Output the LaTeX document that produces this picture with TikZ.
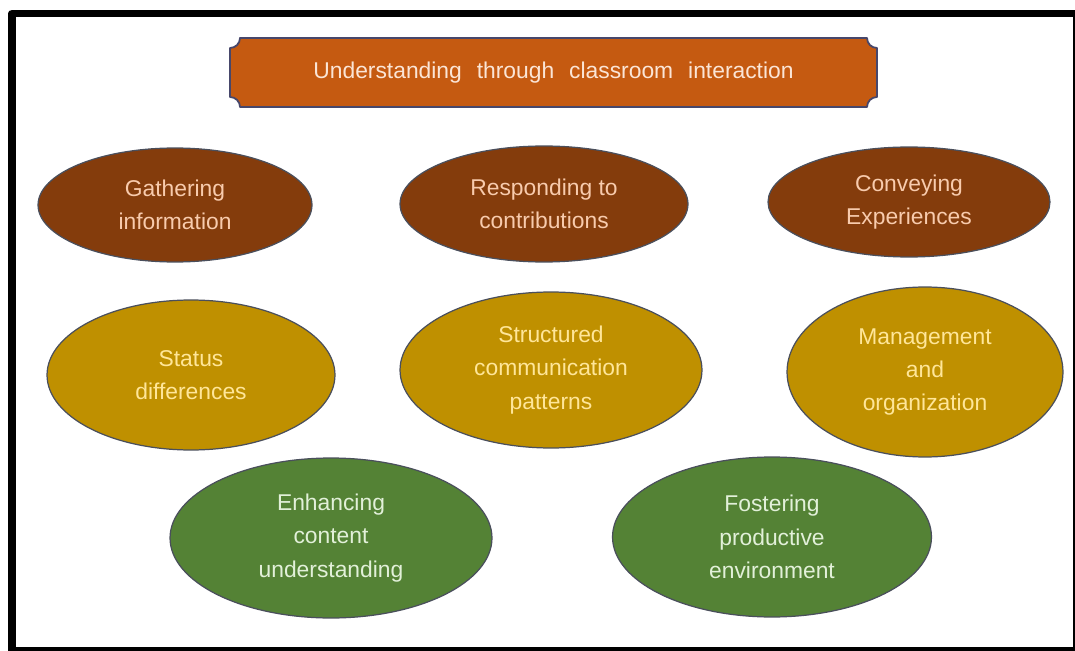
\documentclass[tikz,border=0pt]{standalone}
\usepackage{fontspec}
\setmainfont{Liberation Sans}
\usetikzlibrary{shapes.geometric}

\definecolor{titlefill}{HTML}{C55A11}
\definecolor{titletext}{HTML}{FBE5D6}
\definecolor{brownfill}{HTML}{843C0C}
\definecolor{browntext}{HTML}{F8CBAD}
\definecolor{goldfill}{HTML}{BF9000}
\definecolor{goldtext}{HTML}{FFE699}
\definecolor{greenfill}{HTML}{548235}
\definecolor{greentext}{HTML}{E2F0D9}
\definecolor{rim}{HTML}{4A4F5C}

\newcommand{\widewords}{\spaceskip=8.5pt plus 1pt minus 1pt\relax}

\begin{document}
\begin{tikzpicture}[x=0.02cm, y=0.02cm, line join=round,
    bubble/.style={ellipse, draw=rim, line width=0.7pt, inner sep=0pt,
        align=center, font=\fontsize{13}{19}\selectfont},
    topic/.style={bubble, fill=brownfill, text=browntext},
    aspect/.style={bubble, fill=goldfill, text=goldtext},
    goal/.style={bubble, fill=greenfill, text=greentext}]
    %% Page frame
    \useasboundingbox (0,0) rectangle (1075,650);
    \clip (0,0) rectangle (1075,650);
    \fill[white] (0,0) rectangle (1075,650);
    \draw[line width=0.15cm] (12,636.5) rectangle (1076.75,-0.75);
    %% Title plate with notched corners
    \def\r{0.2cm}
    \draw[fill=titlefill, draw=gray!80!blue!70!black, line width=1pt]
        (240,612) -- (867,612) arc[start angle=180, end angle=270, radius=\r]
        -- (877,553) arc[start angle=90, end angle=180, radius=\r]
        -- (240,543) arc[start angle=0, end angle=90, radius=\r]
        -- (230,602) arc[start angle=-90, end angle=0, radius=\r] -- cycle;
    \node[text=titletext, font=\fontsize{13}{16}\selectfont]
        (title) at (553.5,577.5) {\widewords Understanding through classroom interaction};
    %% First row
    \node[topic, minimum width=5.48cm, minimum height=2.28cm] (gather) at (175,445)
        {Gathering\\information};
    \node[topic, minimum width=5.76cm, minimum height=2.32cm] (respond) at (544,446)
        {Responding to\\contributions};
    \node[topic, minimum width=5.64cm, minimum height=2.2cm] (convey) at (909,448)
        {Conveying\\Experiences};
    %% Second row
    \node[aspect, minimum width=5.76cm, minimum height=3cm] (status) at (191,275)
        {Status\\differences};
    \node[aspect, minimum width=6.04cm, minimum height=3.12cm] (pattern) at (551,280)
        {Structured\\communication\\patterns};
    \node[aspect, minimum width=5.52cm, minimum height=3.4cm] (manage) at (925,278)
        {Management\\and\\organization};
    %% Third row
    \node[goal, minimum width=6.44cm, minimum height=3.2cm] (content) at (331,112)
        {Enhancing\\content\\understanding};
    \node[goal, minimum width=6.38cm, minimum height=3.2cm] (foster) at (772,113)
        {Fostering\\productive\\environment};
\end{tikzpicture}
\end{document}
